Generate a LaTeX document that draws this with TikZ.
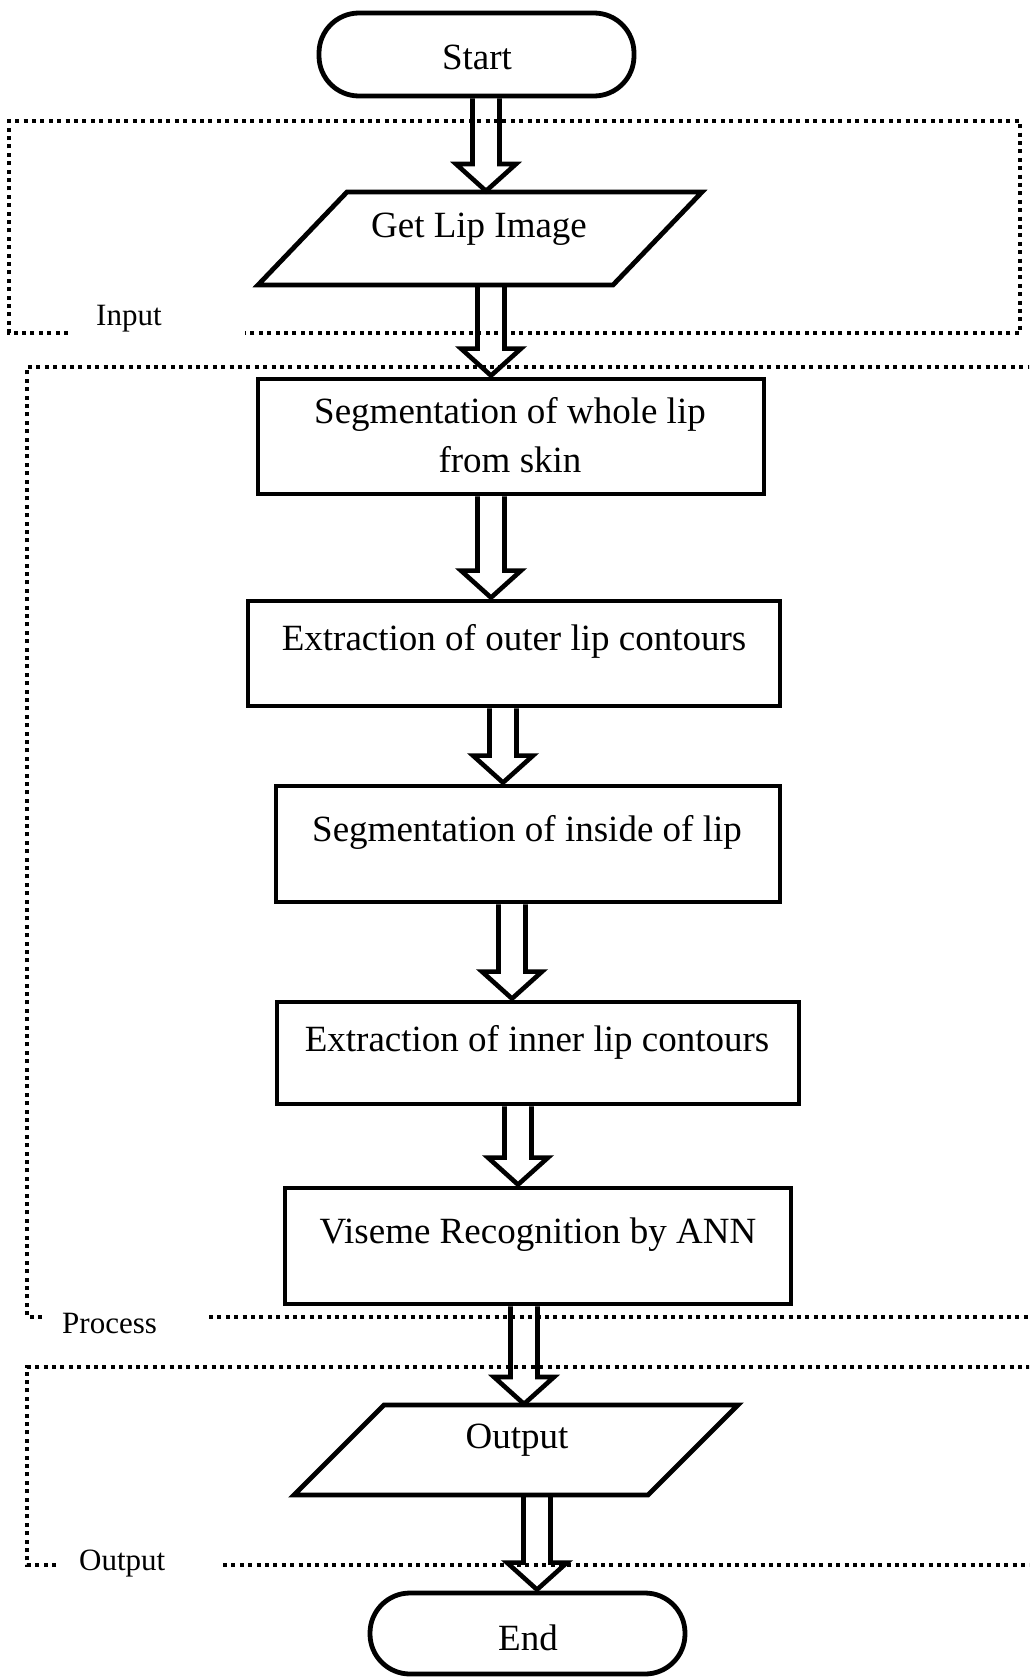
\documentclass[tikz,border=0pt]{standalone}
\usepackage{fontspec}
\setmainfont{Liberation Serif}
\usetikzlibrary{calc}
\newcommand\blockarrow[3]{%
  \draw[blockarr] let \p1=(#1.south -| #3), \p2=(#2.north -| #3) in
    (\x1-13.5pt,\y1) -- (\x1-13.5pt,\y2+28pt) -- (\x1-30pt,\y2+28pt) --
    (\x1,\y2+1pt) -- (\x1+30pt,\y2+28pt) -- (\x1+13.5pt,\y2+28pt) -- (\x1+13.5pt,\y1);}
\begin{document}
\begin{tikzpicture}[x=1pt,y=-1pt,
  box/.style={draw, line width=4.8pt, inner sep=0pt},
  term/.style={box, rounded corners=40pt},
  ghost/.style={inner sep=0pt, outer sep=0pt},
  txt/.style={font=\fontsize{37}{46}\selectfont, inner sep=0pt, anchor=base},
  lbl/.style={font=\fontsize{31}{38}\selectfont, inner sep=0pt, anchor=base west},
  region/.style={line width=3.6pt, dash pattern=on 4pt off 4.4pt},
  blockarr/.style={line width=4.6pt, line join=miter}]
\useasboundingbox (0,0) rectangle (1029,1678);
\clip (0,0) rectangle (1029,1678);

% regions
\draw[region] (68,333) -- (9,333) -- (9,121) -- (1020,121) -- (1020,333) -- (245,333);
\draw[region] (42,1317) -- (27,1317) -- (27,367) -- (1035,367);
\draw[region] (209,1317) -- (1035,1317);
\draw[region] (56,1565) -- (27,1565) -- (27,1367) -- (1035,1367);
\draw[region] (223,1565) -- (1035,1565);
\node[lbl] (linput) at (96,325) {Input};
\node[lbl] (lprocess) at (62,1333) {Process};
\node[lbl] (loutput) at (79,1570) {Output};

% boxes
\node[term, minimum width=315pt, minimum height=83pt] (start) at (476.5,54.5) {};
\node[txt] (tstart) at (477,70) {Start};

\node[ghost, minimum width=444pt, minimum height=93pt] (getlip) at (480,238.5) {};
\draw[line width=4.8pt] ($(getlip.north west)+(89,0)$) -- (getlip.north east)
  -- ($(getlip.south east)+(-89,0)$) -- (getlip.south west) -- cycle;
\node[txt] (tgetlip) at (479,237) {Get Lip Image};

\node[box, minimum width=506pt, minimum height=115pt] (segwhole) at (511,436.5) {};
\node[txt] (tsegwhole1) at (510,423) {Segmentation of whole lip};
\node[txt] (tsegwhole2) at (510,472) {from skin};

\node[box, minimum width=532pt, minimum height=105pt] (extout) at (514,653.5) {};
\node[txt] (textout) at (514,650) {Extraction of outer lip contours};

\node[box, minimum width=504pt, minimum height=116pt] (segin) at (528,844) {};
\node[txt] (tsegin) at (527,841) {Segmentation of inside of lip};

\node[box, minimum width=522pt, minimum height=102pt] (extin) at (538,1053) {};
\node[txt] (textin) at (537,1051) {Extraction of inner lip contours};

\node[box, minimum width=506pt, minimum height=116pt] (viseme) at (538,1246) {};
\node[txt] (tviseme) at (538,1243) {Viseme Recognition by ANN};

\node[ghost, minimum width=444pt, minimum height=90pt] (output) at (516,1450) {};
\draw[line width=4.8pt] ($(output.north west)+(90,0)$) -- (output.north east)
  -- ($(output.south east)+(-90,0)$) -- (output.south west) -- cycle;
\node[txt] (toutput) at (517,1448) {Output};

\node[term, minimum width=315pt, minimum height=81pt] (end) at (527.5,1633.5) {};
\node[txt] (tend) at (528,1650) {End};

% arrow axes
\coordinate (ax1) at (486,0);
\coordinate (ax2) at (491,0);
\coordinate (ax3) at (491,0);
\coordinate (ax4) at (503,0);
\coordinate (ax5) at (512,0);
\coordinate (ax6) at (518,0);
\coordinate (ax7) at (524,0);
\coordinate (ax8) at (537,0);

\blockarrow{start}{getlip}{ax1}
\blockarrow{getlip}{segwhole}{ax2}
\blockarrow{segwhole}{extout}{ax3}
\blockarrow{extout}{segin}{ax4}
\blockarrow{segin}{extin}{ax5}
\blockarrow{extin}{viseme}{ax6}
\blockarrow{viseme}{output}{ax7}
\blockarrow{output}{end}{ax8}
\end{tikzpicture}
\end{document}
